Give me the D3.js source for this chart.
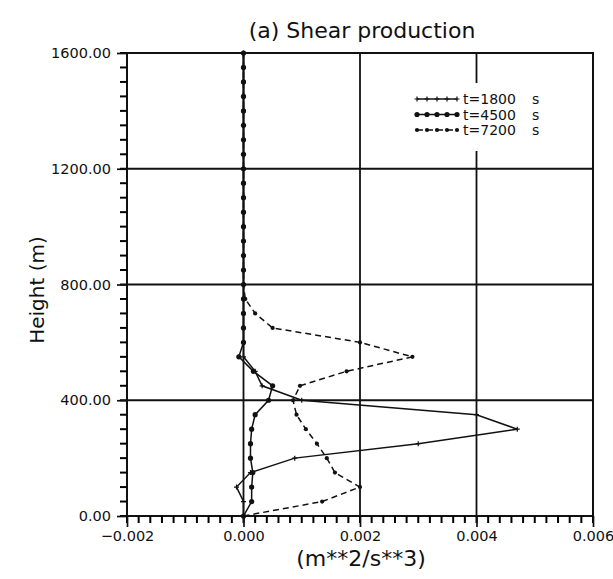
<!DOCTYPE html>
<html>
<head>
<meta charset="utf-8">
<script src="https://cdn.jsdelivr.net/npm/d3@7"></script>
<style>
  html, body { margin: 0; padding: 0; background: #fff; }
  svg { display: block; }
  text { font-family: "DejaVu Sans", "Liberation Sans", sans-serif; fill: #111; }
</style>
</head>
<body>
<svg id="chart" width="613" height="579"></svg>
<script>
// Model levels (m)
const heights = [0, 50, 100, 150, 200, 250, 300, 350, 400, 450, 500, 550, 600, 650, 700, 750,
  800, 850, 900, 950, 1000, 1050, 1100, 1150, 1200, 1250, 1300, 1350, 1400, 1450, 1500, 1550, 1600];

// Shear production (m**2/s**3) at each level
const shear1800 = [0, 0, -0.00012, 0.00012, 0.00088, 0.0030, 0.0047, 0.0040, 0.0010, 0.00032, 0.0002, 0,
  0, 0, 0, 0, 0, 0, 0, 0, 0, 0, 0, 0, 0, 0, 0, 0, 0, 0, 0, 0, 0];
const shear4500 = [0, 0.00014, 0.00014, 0.00016, 0.00012, 0.00012, 0.00014, 0.0002, 0.00043, 0.0005, 0.00017, -0.00008,
  0, 0, 0, 0, 0, 0, 0, 0, 0, 0, 0, 0, 0, 0, 0, 0, 0, 0, 0, 0, 0];
const shear7200 = [0, 0.00135, 0.0020, 0.00157, 0.00143, 0.00126, 0.00107, 0.00091, 0.00085, 0.00097, 0.00177, 0.0029,
  0.0020, 0.0005, 0.0002, 0.00003, 0, 0, 0, 0, 0, 0, 0, 0, 0, 0, 0, 0, 0, 0, 0, 0, 0];

const seriesNames = ["t=1800", "t=4500", "t=7200"];
const xTicks = [-0.002, 0.000, 0.002, 0.004, 0.006];
const yTicks = [0, 400, 800, 1200, 1600];
const xMinorTicks = d3.range(0, 41).map(i => -0.002 + i * 0.0002);
const yMinorTicks = d3.range(0, 33).map(i => i * 50);
const xGrid = [0.000, 0.002, 0.004];
const yGrid = [400, 800, 1200];

const titleText = "(a) Shear production";
const xLabel = "(m**2/s**3)";
const yLabel = "Height (m)";

const svg = d3.select("#chart");
const x = d3.scaleLinear().domain([-0.002, 0.006]).range([127, 593]);
const y = d3.scaleLinear().domain([0, 1600]).range([516, 53]);

const ink = "#111";

// grid lines
const grid = svg.append("g").attr("stroke", ink).attr("stroke-width", 1.8);
grid.selectAll(".gx").data(xGrid).join("line")
  .attr("x1", d => x(d)).attr("x2", d => x(d))
  .attr("y1", y(1600)).attr("y2", y(0));
grid.selectAll(".gy").data(yGrid).join("line")
  .attr("x1", x(-0.002)).attr("x2", x(0.006))
  .attr("y1", d => y(d)).attr("y2", d => y(d));

// frame
svg.append("rect")
  .attr("x", x(-0.002)).attr("y", y(1600))
  .attr("width", x(0.006) - x(-0.002)).attr("height", y(0) - y(1600))
  .attr("fill", "none").attr("stroke", ink).attr("stroke-width", 2);

// minor ticks, drawn outward from the frame
const minorTicks = svg.append("g").attr("class", "minor-ticks");
minorTicks.selectAll("line.mx").data(xMinorTicks).enter().append("line")
  .attr("class", "mx")
  .attr("x1", d => x(d)).attr("x2", d => x(d))
  .attr("y1", y(0)).attr("y2", y(0) + 7)
  .style("stroke", "#000").style("stroke-width", "2px");
minorTicks.selectAll("line.my").data(yMinorTicks).enter().append("line")
  .attr("class", "my")
  .attr("x1", x(-0.002) - 7).attr("x2", x(-0.002))
  .attr("y1", d => y(d)).attr("y2", d => y(d))
  .style("stroke", "#000").style("stroke-width", "2px");

// major ticks with labels
const xAxis = d3.axisBottom(x).tickValues(xTicks).tickSize(11).tickPadding(4)
  .tickFormat(d => d3.format(".3f")(d).replace("-", "\u2212"));
const gx = svg.append("g").attr("transform", `translate(0,${y(0)})`).call(xAxis);

const yAxis = d3.axisLeft(y).tickValues(yTicks).tickSize(10).tickPadding(6)
  .tickFormat(d => d3.format(".2f")(d));
const gy = svg.append("g").attr("transform", `translate(${x(-0.002)},0)`).call(yAxis);

[gx, gy].forEach(g => {
  g.select(".domain").remove();
  g.selectAll(".tick line").attr("stroke", ink).attr("stroke-width", 1.7);
  g.selectAll(".tick text").attr("fill", ink).style("font-size", "14.5px")
    .style("font-family", "'DejaVu Sans', sans-serif");
});

// data series
const series = [
  { name: seriesNames[0], values: shear1800, dash: null, marker: "plus" },
  { name: seriesNames[1], values: shear4500, dash: null, marker: "circle" },
  { name: seriesNames[2], values: shear7200, dash: "6,4", marker: "dot" }
];

const line = d3.line().x(d => x(d[0])).y(d => y(d[1]));

function drawMarkers(g, pts, kind) {
  if (kind === "plus") {
    g.selectAll(null).data(pts).join("path")
      .attr("d", d => `M${d[0] - 2.5},${d[1]}h5M${d[0]},${d[1] - 2.5}v5`)
      .attr("stroke", ink).attr("stroke-width", 1.2).attr("fill", "none");
  } else if (kind === "circle") {
    g.selectAll(null).data(pts).join("circle")
      .attr("cx", d => d[0]).attr("cy", d => d[1]).attr("r", 2.6)
      .attr("fill", ink);
  } else {
    g.selectAll(null).data(pts).join("circle")
      .attr("cx", d => d[0]).attr("cy", d => d[1]).attr("r", 2.1)
      .attr("fill", ink);
  }
}

series.forEach(s => {
  const pts = heights.map((h, i) => [s.values[i], h]);
  const g = svg.append("g");
  g.append("path").datum(pts).attr("d", line)
    .attr("fill", "none").attr("stroke", ink).attr("stroke-width", 1.5)
    .attr("stroke-dasharray", s.dash);
  drawMarkers(g, pts.map(p => [x(p[0]), y(p[1])]), s.marker);
});

// legend (white backing interrupts the grid line behind it)
const legend = svg.append("g");
legend.append("rect").attr("x", 410).attr("y", 83).attr("width", 170).attr("height", 68)
  .attr("fill", "#fff");
series.forEach((s, i) => {
  const ly = 99 + i * 15.5;
  const x0 = 417, x1 = 457;
  legend.append("line").attr("x1", x0).attr("x2", x1).attr("y1", ly).attr("y2", ly)
    .attr("stroke", ink).attr("stroke-width", 1.5).attr("stroke-dasharray", s.dash);
  drawMarkers(legend.append("g"), d3.range(5).map(k => [x0 + k * (x1 - x0) / 4, ly]), s.marker);
  legend.append("text").attr("x", 463).attr("y", ly + 5).style("font-size", "14px").text(s.name);
  legend.append("text").attr("x", 532).attr("y", ly + 5).style("font-size", "14px").text("s");
});

// titles
svg.append("text").attr("x", 362).attr("y", 38).attr("text-anchor", "middle")
  .style("font-size", "22px").text(titleText);
svg.append("text").attr("x", 361).attr("y", 566).attr("text-anchor", "middle")
  .style("font-size", "22px").text(xLabel);
svg.append("text").attr("transform", "translate(44,290) rotate(-90)")
  .attr("text-anchor", "middle").style("font-size", "20px").text(yLabel);
</script>
</body>
</html>
